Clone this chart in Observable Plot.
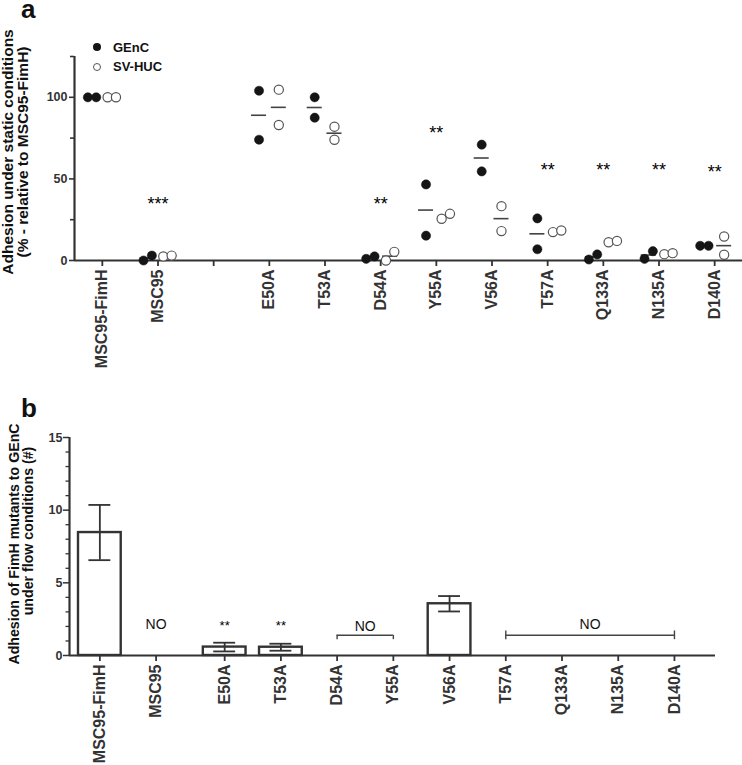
<!DOCTYPE html>
<html>
<head>
<meta charset="utf-8">
<script src="https://cdn.jsdelivr.net/npm/d3@7"></script>
<script src="https://cdn.jsdelivr.net/npm/@observablehq/plot@0.6"></script>
<style>
  html, body { margin: 0; padding: 0; background: #fff; }
  #wrap { position: relative; width: 742px; height: 765px; font-family: "Liberation Sans", Arial, Helvetica, sans-serif; color: #111; overflow: hidden; }
  .panel { position: absolute; left: 0; }
  .lab { position: absolute; white-space: nowrap; font-weight: bold; }
  .rot { position: absolute; white-space: nowrap; font-weight: bold; transform: translate(-50%, -50%) rotate(-90deg); }
</style>
</head>
<body>
<div id="wrap">
  <div id="pa" class="panel" style="top:0"></div>
  <div id="pb" class="panel" style="top:390px"></div>
</div>
<script>
// ---------- data ----------
const strains = ["MSC95-FimH","MSC95","E50A","T53A","D54A","Y55A","V56A","T57A","Q133A","N135A","D140A"];

// Panel a: adhesion under static conditions (% relative to MSC95-FimH), two replicates per cell line
const gencRep1  = [100, 0.0, 104.0, 100.0, 1.0, 46.6, 71.0, 25.8, 0.6, 1.0, 9.0];
const gencRep2  = [100, 3.0,  74.0,  87.5, 2.5, 15.2, 54.6,  6.9, 3.7, 5.7, 9.0];
const svhucRep1 = [100, 2.5, 104.7,  82.0, 0.0, 25.6, 33.3, 17.4, 11.2, 3.9, 14.7];
const svhucRep2 = [100, 3.0,  83.0,  74.0, 5.3, 28.6, 18.0, 18.4, 12.0, 4.5, 3.5];
const sigA      = ["", "***", "", "", "**", "**", "", "**", "**", "**", "**"];
const sigALevel = [null, 37, null, null, 37, 81, null, 58, 58, 58, 57];
const yTicksA = [0, 50, 100];
const yMinorA = [25, 75, 125];

// Panel b: adhesion under flow conditions (#)
const flowMean  = [8.46, 0, 0.58, 0.57, 0, 0, 3.56, 0, 0, 0, 0];
const flowErr   = [1.90, 0, 0.30, 0.24, 0, 0, 0.53, 0, 0, 0, 0];
const flowSeen  = [true, false, true, true, false, false, true, false, false, false, false];
const sigB      = ["", "", "**", "**", "", "", "", "", "", "", ""];
const sigBLevel = 2.3;
const noFrom    = ["MSC95", "D54A", "T57A"];
const noTo      = ["MSC95", "Y55A", "D140A"];
const noLevel   = [2.15, 1.97, 2.13];
const noBracket = [null, 1.39, 1.39];
const yTicksB = [0, 5, 10, 15];
const yMinorB = [1,2,3,4,6,7,8,9,11,12,13,14];

// ---------- layout helpers ----------
const FONT = '"Liberation Sans", Arial, Helvetica, sans-serif';
const INK = "#222";
const AX = "#333";

// panel a: one empty slot after MSC95
const posA = strains.map((s, i) => i + (i >= 2 ? 1 : 0));
const ticksA = [0, 1, 2, 3, 4, 5, 6, 7, 8, 9, 10, 11];
const nameA = new Map(strains.map((s, i) => [posA[i], s]));

const dotsA = [];
const meansA = [];
const series = [
  {name: "GEnC", r1: gencRep1, r2: gencRep2, off: -0.185},
  {name: "SV-HUC", r1: svhucRep1, r2: svhucRep2, off: 0.17}
];
strains.forEach((s, i) => {
  for (const se of series) {
    const base = posA[i] + se.off;
    const a = se.r1[i], b = se.r2[i];
    const close = Math.abs(a - b) < 6;
    const [lo, hi] = a <= b ? [a, b] : [b, a];
    dotsA.push({series: se.name, v: lo, x: close ? base - 0.075 : base});
    dotsA.push({series: se.name, v: hi, x: close ? base + 0.075 : base});
    meansA.push({series: se.name, m: (a + b) / 2, x1: base - 0.135, x2: base + 0.135});
  }
});
const starsA = strains.map((s, i) => ({x: posA[i], y: sigALevel[i], t: sigA[i]})).filter(d => d.t);

const plotA = Plot.plot({
  width: 742, height: 390,
  marginLeft: 74, marginRight: 0, marginTop: 56, marginBottom: 130,
  x: {domain: [-0.5, 11.5]},
  y: {domain: [0, 125]},
  style: {fontFamily: FONT, background: "transparent", color: INK},
  marks: [
    Plot.ruleX([-0.5], {y1: 0, y2: 125, stroke: AX, strokeWidth: 2.2}),
    Plot.ruleY([0], {stroke: AX, strokeWidth: 2.2}),
    Plot.axisY({ticks: yTicksA, tickSize: 5, tickPadding: 2, fontSize: 12.5, fontWeight: "bold", color: AX, strokeWidth: 1.6, label: null}),
    Plot.axisY({ticks: yMinorA, tickSize: 4, tickFormat: () => "", color: AX, strokeWidth: 1.6, label: null}),
    Plot.axisX({ticks: ticksA, tickFormat: d => nameA.get(d) || "", tickRotate: -90, tickSize: 6, tickPadding: 3,
                fontSize: 16, fontWeight: "bold", color: AX, strokeWidth: 1.8, label: null}),
    Plot.ruleY(meansA, {y: "m", x1: "x1", x2: "x2", stroke: "#444", strokeWidth: 1.6}),
    Plot.dot(dotsA.filter(d => d.series === "SV-HUC"), {x: "x", y: "v", r: 4.6, fill: "white", stroke: "#555", strokeWidth: 1.2}),
    Plot.dot(dotsA.filter(d => d.series === "GEnC"), {x: "x", y: "v", r: 4.6, fill: "#151515", stroke: "#151515", strokeWidth: 0.5}),
    Plot.text(starsA, {x: "x", y: "y", text: "t", fontSize: 18, dy: 4.5, fill: "#000"})
  ]
});
document.getElementById("pa").appendChild(plotA);

// panel b: slightly wider gap after MSC95
const posB = strains.map((s, i) => i + (i >= 2 ? 0.22 : 0));
const nameB = new Map(strains.map((s, i) => [posB[i], s]));
const posOf = new Map(strains.map((s, i) => [s, posB[i]]));
const halfBar = 0.38, halfCap = 0.195;
const barsB = strains.map((s, i) => ({x: posB[i], m: flowMean[i], e: flowErr[i], seen: flowSeen[i]})).filter(d => d.seen);
const starsB = strains.map((s, i) => ({x: posB[i], t: sigB[i]})).filter(d => d.t);
const noB = noFrom.map((f, i) => ({x1: posOf.get(f), x2: posOf.get(noTo[i]), level: noLevel[i], br: noBracket[i]}));
const brackets = noB.filter(d => d.br != null);

const plotB = Plot.plot({
  width: 742, height: 375,
  marginLeft: 69, marginRight: 27, marginTop: 47, marginBottom: 110,
  x: {domain: [-0.54, 10.95]},
  y: {domain: [0, 15]},
  style: {fontFamily: FONT, background: "transparent", color: INK},
  marks: [
    Plot.rect(barsB, {x1: d => d.x - halfBar, x2: d => d.x + halfBar, y1: 0, y2: "m", fill: "white", stroke: AX, strokeWidth: 2.4}),
    Plot.ruleX(barsB, {x: "x", y1: d => d.m - d.e, y2: d => d.m + d.e, stroke: AX, strokeWidth: 1.8}),
    Plot.ruleY(barsB, {y: d => d.m + d.e, x1: d => d.x - halfCap, x2: d => d.x + halfCap, stroke: AX, strokeWidth: 1.8}),
    Plot.ruleY(barsB, {y: d => d.m - d.e, x1: d => d.x - halfCap, x2: d => d.x + halfCap, stroke: AX, strokeWidth: 1.8}),
    Plot.ruleX([-0.54], {y1: 0, y2: 15, stroke: AX, strokeWidth: 2.2}),
    Plot.ruleY([0], {stroke: AX, strokeWidth: 2.2}),
    Plot.axisY({ticks: yTicksB, tickSize: 6, tickPadding: 1, fontSize: 12.5, fontWeight: "bold", color: AX, strokeWidth: 1.5, label: null}),
    Plot.axisY({ticks: yMinorB, tickSize: 3.5, tickFormat: () => "", color: AX, strokeWidth: 1.3, label: null}),
    Plot.axisX({ticks: posB, tickFormat: d => nameB.get(d) || "", tickRotate: -90, tickSize: 6, tickPadding: 3,
                fontSize: 16, fontWeight: "bold", color: AX, strokeWidth: 1.8, label: null}),
    Plot.ruleY(brackets, {y: "br", x1: "x1", x2: "x2", stroke: "#444", strokeWidth: 1.4}),
    Plot.ruleX(brackets, {x: "x1", y1: d => d.br - 0.3, y2: d => d.br + (d.x2 - d.x1 > 2 ? 0.3 : 0), stroke: "#444", strokeWidth: 1.4}),
    Plot.ruleX(brackets, {x: "x2", y1: d => d.br - 0.3, y2: d => d.br + (d.x2 - d.x1 > 2 ? 0.3 : 0), stroke: "#444", strokeWidth: 1.4}),
    Plot.text(noB, {x: d => (d.x1 + d.x2) / 2, y: "level", text: () => "NO", fontSize: 14, fill: "#111"}),
    Plot.text(starsB, {x: "x", y: () => sigBLevel, text: "t", fontSize: 13, dy: 3.3, fill: "#000"})
  ]
});
document.getElementById("pb").appendChild(plotB);

// ---------- overlay text (panel letters, axis titles, legend) ----------
const wrap = document.getElementById("wrap");
function addDiv(cls, text, css) {
  const d = document.createElement("div");
  d.className = cls;
  d.textContent = text;
  Object.assign(d.style, css);
  wrap.appendChild(d);
  return d;
}
addDiv("lab", "a", {left: "21px", top: "0px", fontSize: "26px", lineHeight: "18px"});
addDiv("lab", "b", {left: "21px", top: "395px", fontSize: "26px", lineHeight: "26px"});
addDiv("rot", "Adhesion under static conditions", {left: "7.8px", top: "152px", fontSize: "15.5px", lineHeight: "15.5px"});
addDiv("rot", "(% - relative to MSC95-FimH)", {left: "23.2px", top: "152px", fontSize: "15.5px", lineHeight: "15.5px"});
addDiv("rot", "Adhesion of FimH mutants to GEnC", {left: "13.6px", top: "544px", fontSize: "14.2px", lineHeight: "14.2px"});
addDiv("rot", "under flow conditions (#)", {left: "28.2px", top: "531px", fontSize: "14.2px", lineHeight: "14.2px"});

// legend
const legendNames = ["GEnC", "SV-HUC"];
legendNames.forEach((name, i) => {
  const cy = 47.3 + i * 19.5;
  const c = document.createElement("div");
  Object.assign(c.style, {position: "absolute", left: (96.7 - 4) + "px", top: (cy - 4) + "px", width: "8px", height: "8px",
    borderRadius: "50%", boxSizing: "border-box",
    background: i === 0 ? "#151515" : "white", border: i === 0 ? "none" : "1.1px solid #555"});
  wrap.appendChild(c);
  addDiv("lab", name, {left: "113px", top: (cy - 6.6) + "px", fontSize: "13px", lineHeight: "13px"});
});
</script>
</body>
</html>
